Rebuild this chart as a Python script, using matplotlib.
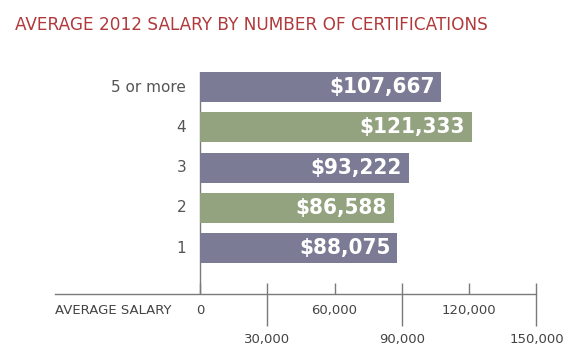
import matplotlib
matplotlib.use("Agg")
import matplotlib.pyplot as plt
from matplotlib.ticker import FixedLocator, FixedFormatter

# data (bottom to top)
categories = ["1", "2", "3", "4", "5 or more"]
salaries = [88075, 86588, 93222, 121333, 107667]
value_labels = ["$88,075", "$86,588", "$93,222", "$121,333", "$107,667"]
bar_colors = ["#7b7b95", "#93a27f", "#7b7b95", "#93a27f", "#7b7b95"]
upper_ticks = [0, 60000, 120000]
upper_labels = ["0", "60,000", "120,000"]
lower_ticks = [30000, 90000, 150000]
lower_labels = ["30,000", "90,000", "150,000"]

plt.rcParams['font.family'] = ['DejaVu Sans']
axis_col = "#7a7a7a"
text_col = "#444444"

fig = plt.figure(figsize=(5.8, 3.58), dpi=100)
ax = fig.add_axes([0.0948, 0.1788, 0.830, 0.6201])

y = list(range(len(categories)))
ax.barh(y, salaries, height=0.745, color=bar_colors, zorder=2)

ax.set_xlim(-64636, 150000)
ax.set_ylim(-1.14, 4.373)

for s in ["top", "right", "left"]:
    ax.spines[s].set_visible(False)
ax.spines["bottom"].set_color(axis_col)
ax.spines["bottom"].set_linewidth(1.0)
ax.axvline(0, color=axis_col, lw=1.0, zorder=1)

# ticks: short ones above the axis, long ones below for the lower row
ax.xaxis.remove_overlapping_locs = False
ax.xaxis.set_major_locator(FixedLocator(upper_ticks + lower_ticks))
ax.xaxis.set_major_formatter(FixedFormatter(upper_labels + ["", "", ""]))
ax.xaxis.set_minor_locator(FixedLocator(lower_ticks))
ax.xaxis.set_minor_formatter(FixedFormatter(lower_labels))
ax.tick_params(axis="x", which="major", direction="in", length=8, width=1.0,
               color=axis_col, pad=7, labelsize=9.5, labelcolor=text_col)
ax.tick_params(axis="x", which="minor", direction="out", length=23, width=1.0,
               color=axis_col, pad=5, labelsize=9.5, labelcolor=text_col)
ax.set_yticks([])

ax.text(-64636, -0.075, "AVERAGE SALARY", ha="left", va="center", fontsize=9.5,
        color=text_col, transform=ax.get_xaxis_transform())

for i, (cat, val, lab) in enumerate(zip(categories, salaries, value_labels)):
    ax.annotate(cat, (0, i), xytext=(-10, 0), textcoords="offset points",
                ha="right", va="center", fontsize=11, color="#555555")
    ax.annotate(lab, (val, i), xytext=(-5, 0), textcoords="offset points",
                ha="right", va="center", fontsize=16, fontweight="bold",
                fontstretch="condensed", color="white", zorder=3)

fig.text(0.026, 0.93, "AVERAGE 2012 SALARY BY NUMBER OF CERTIFICATIONS",
         ha="left", va="center", fontsize=12.2, color="#b0393b")

fig.savefig("out.png", dpi=100)
